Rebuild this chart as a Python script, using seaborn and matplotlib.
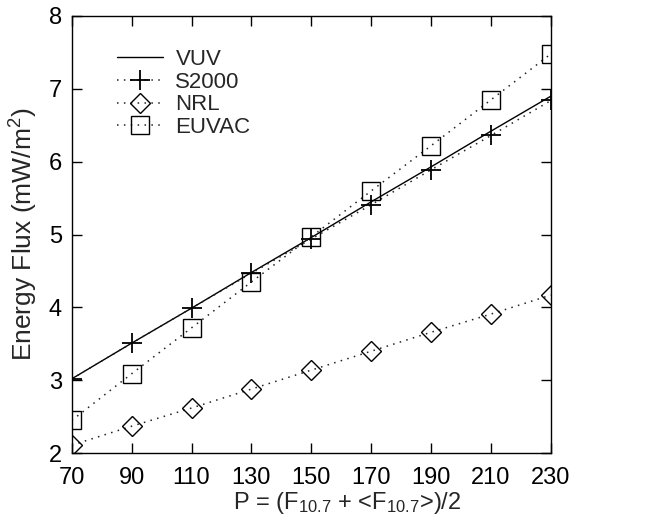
import matplotlib
matplotlib.use("Agg")
import matplotlib.pyplot as plt
import seaborn as sns
import pandas as pd

# ---- data ----
P = [70, 90, 110, 130, 150, 170, 190, 210, 230]
vuv = [3.02, 3.51, 3.99, 4.48, 4.96, 5.45, 5.93, 6.42, 6.90]
s2000 = [3.02, 3.51, 3.99, 4.47, 4.94, 5.41, 5.89, 6.36, 6.84]
nrl = [2.11, 2.37, 2.62, 2.88, 3.14, 3.40, 3.66, 3.91, 4.17]
euvac = [2.45, 3.09, 3.72, 4.35, 4.97, 5.60, 6.22, 6.85, 7.48]
x_ticks = [70, 90, 110, 130, 150, 170, 190, 210, 230]
y_ticks = [2, 3, 4, 5, 6, 7, 8]

sns.set_theme(style="white")
plt.rcParams['font.family'] = ['Liberation Sans', 'DejaVu Sans']
plt.rcParams['mathtext.fontset'] = 'custom'
plt.rcParams['mathtext.rm'] = 'Liberation Sans'
plt.rcParams['mathtext.it'] = 'Liberation Sans:italic'
plt.rcParams['mathtext.bf'] = 'Liberation Sans:bold'

fig = plt.figure(figsize=(6.52, 5.15), dpi=100)
ax = fig.add_axes([0.110, 0.120, 0.735, 0.849])

df = pd.DataFrame({"P": P, "VUV": vuv, "S2000": s2000, "NRL": nrl, "EUVAC": euvac})

dot = (0, (1, 3.5))
sns.lineplot(data=df, x="P", y="VUV", ax=ax, color="black", linewidth=1.0,
             linestyle="-", label="VUV")
sns.lineplot(data=df, x="P", y="S2000", ax=ax, color="#222222", linewidth=1.1,
             linestyle=dot, marker="+", markersize=14, markeredgewidth=1.3,
             markeredgecolor="black", label="S2000")
sns.lineplot(data=df, x="P", y="NRL", ax=ax, color="#222222", linewidth=1.1,
             linestyle=dot, marker="D", markersize=10, markeredgewidth=1.0,
             markerfacecolor="none", markeredgecolor="black", label="NRL")
sns.lineplot(data=df, x="P", y="EUVAC", ax=ax, color="#222222", linewidth=1.1,
             linestyle=dot, marker="s", markersize=12.5, markeredgewidth=1.0,
             markerfacecolor="none", markeredgecolor="black", label="EUVAC")

ax.set_xlim(70, 230)
ax.set_ylim(2, 8)
ax.set_xticks(x_ticks)
ax.set_yticks(y_ticks)
ax.tick_params(axis="both", which="both", direction="in", length=7.5, width=1.0,
               top=True, right=True, bottom=True, left=True, labelsize=17,
               colors="black")
ax.tick_params(axis="x", pad=10)
ax.tick_params(axis="y", pad=7)
for sp in ax.spines.values():
    sp.set_visible(True)
    sp.set_color("black")
    sp.set_linewidth(1.0)

ax.set_xlabel(r"P = (F$_{10.7}$ + <F$_{10.7}$>)/2", fontsize=17, labelpad=0)
ax.xaxis.set_label_coords(0.575, -0.085, transform=ax.transAxes)
ax.xaxis.label.set_va("top")
ax.set_ylabel(r"Energy Flux (mW/m$^2$)", fontsize=19, labelpad=6)

leg = ax.legend(loc="upper left", bbox_to_anchor=(0.075, 0.945), frameon=False,
                fontsize=16, handlelength=2.1, handletextpad=0.55,
                labelspacing=0.08, borderaxespad=0)

fig.savefig("out.png", dpi=100)
